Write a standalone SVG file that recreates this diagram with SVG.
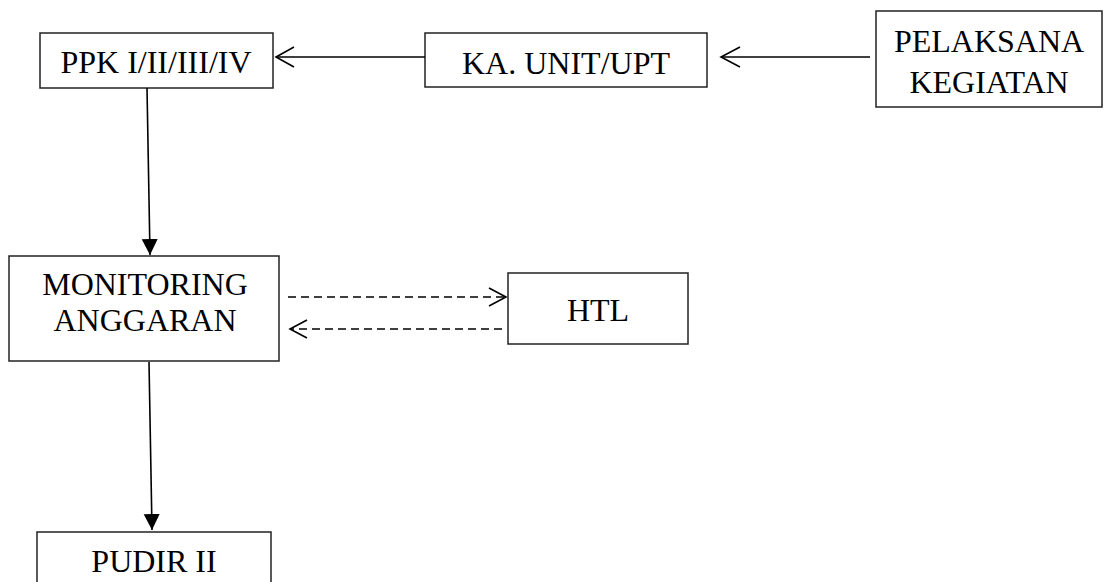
<svg xmlns="http://www.w3.org/2000/svg" width="1105" height="582" viewBox="0 0 1105 582">
<style>
.box{fill:#fff;stroke:#222;stroke-width:1.5}
.t{font-family:"Liberation Serif","Times New Roman",serif;font-size:32px;fill:#000;text-anchor:middle}
.ln{stroke:#000;stroke-width:1.6;fill:none}
.dash{stroke-dasharray:8,5}
.open{stroke:#000;stroke-width:1.6;fill:none}
</style>
<defs>
<marker id="tri" markerUnits="userSpaceOnUse" markerWidth="18" markerHeight="18" viewBox="0 0 18 18" refX="16" refY="9" orient="auto">
<path d="M0,1 L16,9 L0,17 Z" fill="#000"/>
</marker>
</defs>
<rect width="1105" height="582" fill="#fff"/>
<g id="ppk"><rect class="box" x="40" y="33" width="233" height="55"/><text class="t" x="156" y="73">PPK I/II/III/IV</text></g>
<g id="ka"><rect class="box" x="425" y="33" width="282" height="54"/><text class="t" x="566" y="74">KA. UNIT/UPT</text></g>
<g id="pelaksana"><rect class="box" x="876" y="11" width="226" height="96"/><text class="t" x="989" y="52">PELAKSANA</text><text class="t" x="989" y="93">KEGIATAN</text></g>
<g id="monitoring"><rect class="box" x="9" y="256" width="270" height="105"/><text class="t" x="145" y="295">MONITORING</text><text class="t" x="145" y="331">ANGGARAN</text></g>
<g id="htl"><rect class="box" x="508" y="273" width="180" height="71"/><text class="t" x="598" y="321">HTL</text></g>
<g id="pudir"><rect class="box" x="37" y="532" width="234" height="60"/><text class="t" x="154" y="572">PUDIR II</text></g>
<g id="connectors">
<line class="ln" x1="425" y1="57" x2="276" y2="57"/>
<path class="open" d="M294,47 L276,57 L294,67"/>
<line class="ln" x1="870" y1="57" x2="721" y2="57"/>
<path class="open" d="M740,47 L721,57 L740,67"/>
<line class="ln" x1="147" y1="88" x2="150" y2="255" marker-end="url(#tri)"/>
<line class="ln" x1="149" y1="362" x2="152" y2="530" marker-end="url(#tri)"/>
<line class="ln dash" x1="288" y1="297" x2="505" y2="297"/>
<path class="open" d="M489,288 L506,297 L489,306"/>
<line class="ln dash" x1="502" y1="329" x2="291" y2="329"/>
<path class="open" d="M307,320 L290,329 L307,338"/>
</g>
</svg>
